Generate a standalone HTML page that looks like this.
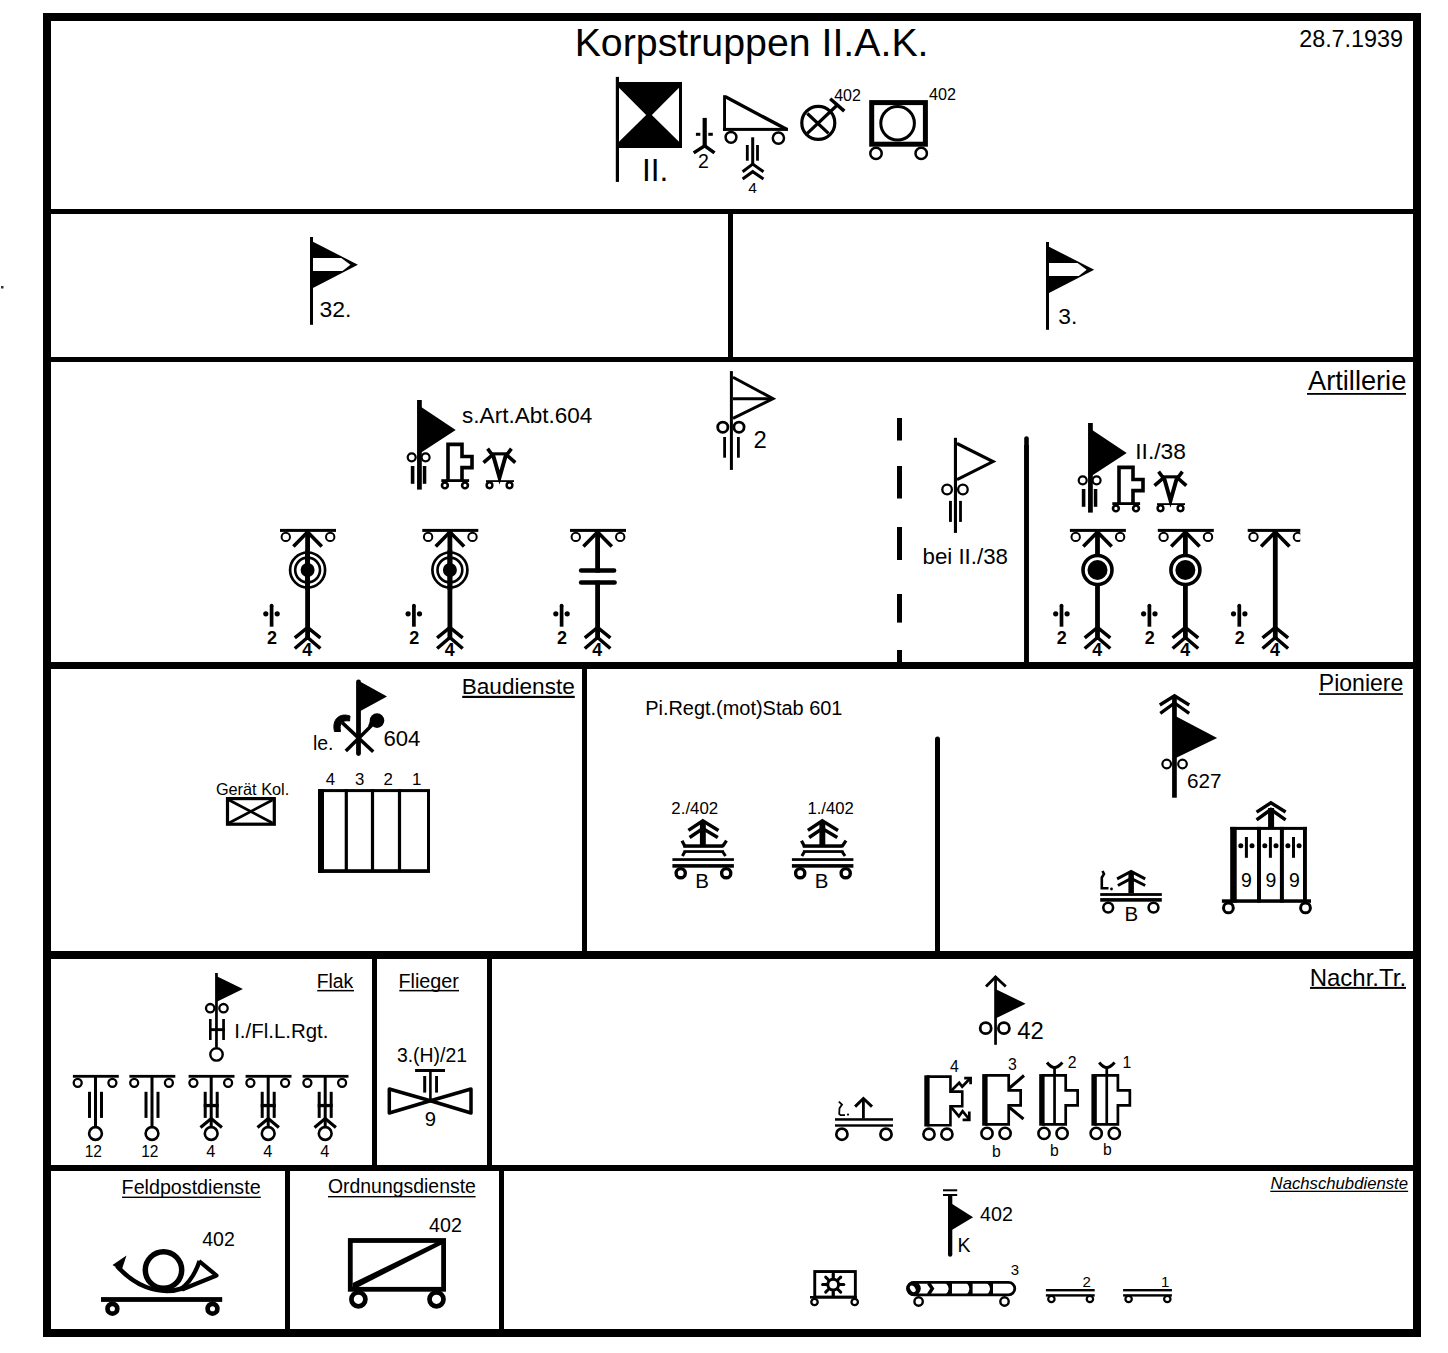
<!DOCTYPE html>
<html><head><meta charset="utf-8"><title>Korpstruppen II.A.K.</title>
<style>html,body{margin:0;padding:0;background:#fff;}svg{display:block;}
text{font-family:"Liberation Sans",sans-serif;fill:#000;stroke:none;}</style></head><body>
<svg width="1448" height="1353" viewBox="0 0 1448 1353">
<rect x="0" y="0" width="1448" height="1353" fill="#fff"/>
<g stroke="#000" fill="none">
<rect x="1" y="286" width="2.5" height="2.5" fill="#333" stroke="none"/>
<rect x="43" y="13" width="1378" height="8" fill="#000" stroke="none"/>
<rect x="43" y="1329" width="1378" height="8" fill="#000" stroke="none"/>
<rect x="43" y="13" width="8" height="1324" fill="#000" stroke="none"/>
<rect x="1413" y="13" width="8" height="1324" fill="#000" stroke="none"/>
<rect x="51" y="209" width="1362" height="5" fill="#000" stroke="none"/>
<rect x="51" y="357" width="1362" height="5" fill="#000" stroke="none"/>
<rect x="51" y="662" width="1362" height="7" fill="#000" stroke="none"/>
<rect x="51" y="951" width="1362" height="8" fill="#000" stroke="none"/>
<rect x="51" y="1165" width="1362" height="6" fill="#000" stroke="none"/>
<rect x="728" y="214" width="5" height="143" fill="#000" stroke="none"/>
<rect x="582" y="669" width="5" height="282" fill="#000" stroke="none"/>
<path d="M937.5,739 L937.5,951" fill="none" stroke-width="5" stroke-linecap="round" stroke-linejoin="miter"/>
<rect x="935" y="745" width="5" height="206" fill="#000" stroke="none"/>
<path d="M1026.5,438.5 L1026.5,662" fill="none" stroke-width="4.6" stroke-linecap="round" stroke-linejoin="miter"/>
<rect x="1024.2" y="445" width="4.6" height="217" fill="#000" stroke="none"/>
<rect x="897" y="418" width="5" height="22.5" fill="#000" stroke="none"/>
<rect x="897" y="466" width="5" height="32.5" fill="#000" stroke="none"/>
<rect x="897" y="527" width="5" height="33" fill="#000" stroke="none"/>
<rect x="897" y="594" width="5" height="28.6" fill="#000" stroke="none"/>
<rect x="897" y="650" width="5" height="12" fill="#000" stroke="none"/>
<rect x="372" y="959" width="5" height="206" fill="#000" stroke="none"/>
<rect x="487" y="959" width="5" height="206" fill="#000" stroke="none"/>
<rect x="285" y="1171" width="5" height="158" fill="#000" stroke="none"/>
<rect x="499" y="1171" width="5" height="158" fill="#000" stroke="none"/>
<rect x="615.8" y="76.9" width="3.2" height="105" fill="#000" stroke="none"/>
<rect x="619" y="82" width="63" height="66" fill="#000" stroke="none"/>
<polygon points="619,87.7 619,141.8 646.2,115" fill="#fff" stroke="none"/>
<polygon points="679,87.7 679,141.8 651.8,115" fill="#fff" stroke="none"/>
<rect x="702.6" y="117.9" width="4.2" height="28.4" fill="#000" stroke="none"/>
<line x1="695.9" y1="134.3" x2="700.3" y2="134.3" stroke-width="3" stroke-linecap="butt"/>
<line x1="708.3" y1="134.3" x2="712.8" y2="134.3" stroke-width="3" stroke-linecap="butt"/>
<polyline points="693.7,152.9 704.7,145.8 714.5,152.9" fill="none" stroke-width="3.5" stroke-linecap="butt" stroke-linejoin="miter"/>
<rect x="723.1" y="95.2" width="2.9" height="35.7" fill="#000" stroke="none"/>
<line x1="725.5" y1="96.8" x2="787" y2="129.6" stroke-width="3.4" stroke-linecap="butt"/>
<rect x="723" y="127.9" width="65" height="3" fill="#000" stroke="none"/>
<circle cx="731" cy="137.3" r="5.4" fill="none" stroke-width="2.5"/>
<circle cx="778.4" cy="138.1" r="5.6" fill="none" stroke-width="2.5"/>
<rect x="751.2" y="137.3" width="3" height="27.7" fill="#000" stroke="none"/>
<rect x="745.9" y="145" width="2.8" height="15.7" fill="#000" stroke="none"/>
<rect x="756.1" y="145" width="2.8" height="15.7" fill="#000" stroke="none"/>
<polyline points="742.6,171.7 752.7,164.1 763.5,171.7" fill="none" stroke-width="3" stroke-linecap="butt" stroke-linejoin="miter"/>
<polyline points="742.6,179 752.7,171.7 763.5,179" fill="none" stroke-width="3" stroke-linecap="butt" stroke-linejoin="miter"/>
<circle cx="818.3" cy="122.9" r="16.5" fill="none" stroke-width="3.2"/>
<line x1="807.3" y1="113.5" x2="828.5" y2="133.4" stroke-width="3.2" stroke-linecap="butt"/>
<line x1="807.3" y1="133.4" x2="838.4" y2="104" stroke-width="3.2" stroke-linecap="butt"/>
<line x1="830.2" y1="98.8" x2="844.3" y2="111.1" stroke-width="3.5" stroke-linecap="butt"/>
<rect x="871.7" y="102.6" width="53.7" height="41.6" fill="none" stroke-width="5"/>
<circle cx="897.6" cy="123.3" r="16.8" fill="none" stroke-width="3"/>
<circle cx="876" cy="153.4" r="5.7" fill="none" stroke-width="2.5"/>
<circle cx="921.2" cy="153.4" r="5.7" fill="none" stroke-width="2.5"/>
<rect x="310" y="237" width="3" height="87.8" fill="#000" stroke="none"/>
<polygon points="312,241.2 357.9,264.8 312,288.5" fill="#000" stroke="none"/>
<polygon points="313,258 341.28,258 350.42,264.8 342.5,271 313,271" fill="#fff" stroke="none"/>
<rect x="1046" y="242" width="3" height="87.8" fill="#000" stroke="none"/>
<polygon points="1048,246.2 1094.2,269.8 1048,293.5" fill="#000" stroke="none"/>
<polygon points="1049,263 1077.49,263 1086.72,269.8 1078.72,276 1049,276" fill="#fff" stroke="none"/>
<rect x="417.05" y="400" width="4.75" height="89.6" fill="#000" stroke="none"/>
<polygon points="420.8,406.8 455.7,430 420.8,452.7" fill="#000" stroke="none"/>
<circle cx="411.7" cy="457.3" r="4" fill="none" stroke-width="2.2"/>
<circle cx="425.6" cy="457.3" r="4" fill="none" stroke-width="2.2"/>
<rect x="410.8" y="466" width="3.6" height="17.8" fill="#000" stroke="none"/>
<rect x="422.8" y="466" width="3.5" height="17.8" fill="#000" stroke="none"/>
<path d="M448,481 V444.4 H462 V456.5 H472 V467.6 H462 V481" fill="none" stroke-width="3.6" stroke-linecap="butt" stroke-linejoin="miter"/>
<rect x="441.3" y="479.2" width="27.8" height="2.8" fill="#000" stroke="none"/>
<circle cx="444.9" cy="485.4" r="2.9" fill="none" stroke-width="2.6"/>
<circle cx="465" cy="485.4" r="2.9" fill="none" stroke-width="2.6"/>
<rect x="492" y="452.3" width="15" height="3.1" fill="#000" stroke="none"/>
<polyline points="492.8,454 499.5,477.5 506.2,454" fill="none" stroke-width="4" stroke-linecap="butt" stroke-linejoin="miter"/>
<polyline points="487.6,448.7 492.3,455 483.5,462.7" fill="none" stroke-width="3.6" stroke-linecap="butt" stroke-linejoin="miter"/>
<polyline points="511.4,448.7 506.7,455 515.3,462.7" fill="none" stroke-width="3.6" stroke-linecap="butt" stroke-linejoin="miter"/>
<rect x="498.5" y="476" width="2" height="5" fill="#000" stroke="none"/>
<rect x="486" y="480.2" width="28" height="1.8" fill="#000" stroke="none"/>
<circle cx="489.5" cy="485.3" r="2.9" fill="none" stroke-width="2.4"/>
<circle cx="509.5" cy="485.3" r="2.9" fill="none" stroke-width="2.4"/>
<rect x="1088.05" y="423" width="4.75" height="89.6" fill="#000" stroke="none"/>
<polygon points="1091.8,429.8 1126.7,453 1091.8,475.7" fill="#000" stroke="none"/>
<circle cx="1082.7" cy="480.3" r="4" fill="none" stroke-width="2.2"/>
<circle cx="1096.6" cy="480.3" r="4" fill="none" stroke-width="2.2"/>
<rect x="1081.8" y="489" width="3.6" height="17.8" fill="#000" stroke="none"/>
<rect x="1093.8" y="489" width="3.5" height="17.8" fill="#000" stroke="none"/>
<path d="M1119,504 V467.4 H1133 V479.5 H1143 V490.6 H1133 V504" fill="none" stroke-width="3.6" stroke-linecap="butt" stroke-linejoin="miter"/>
<rect x="1112.3" y="502.2" width="27.8" height="2.8" fill="#000" stroke="none"/>
<circle cx="1115.9" cy="508.4" r="2.9" fill="none" stroke-width="2.6"/>
<circle cx="1136" cy="508.4" r="2.9" fill="none" stroke-width="2.6"/>
<rect x="1163" y="475.3" width="15" height="3.1" fill="#000" stroke="none"/>
<polyline points="1163.8,477 1170.5,500.5 1177.2,477" fill="none" stroke-width="4" stroke-linecap="butt" stroke-linejoin="miter"/>
<polyline points="1158.6,471.7 1163.3,478 1154.5,485.7" fill="none" stroke-width="3.6" stroke-linecap="butt" stroke-linejoin="miter"/>
<polyline points="1182.4,471.7 1177.7,478 1186.3,485.7" fill="none" stroke-width="3.6" stroke-linecap="butt" stroke-linejoin="miter"/>
<rect x="1169.5" y="499" width="2" height="5" fill="#000" stroke="none"/>
<rect x="1157" y="503.2" width="28" height="1.8" fill="#000" stroke="none"/>
<circle cx="1160.5" cy="508.3" r="2.9" fill="none" stroke-width="2.4"/>
<circle cx="1180.5" cy="508.3" r="2.9" fill="none" stroke-width="2.4"/>
<rect x="729.9" y="371.1" width="3" height="98.8" fill="#000" stroke="none"/>
<polyline points="733,377.2 773,398.7 733,418.3" fill="none" stroke-width="3" stroke-linecap="butt" stroke-linejoin="miter"/>
<line x1="733" y1="398.7" x2="771" y2="398.7" stroke-width="3" stroke-linecap="butt"/>
<circle cx="722.8" cy="427.2" r="5.1" fill="none" stroke-width="2.8"/>
<circle cx="739" cy="427.2" r="5.1" fill="none" stroke-width="2.8"/>
<rect x="723.2" y="437" width="2.8" height="20.7" fill="#000" stroke="none"/>
<rect x="737" y="437" width="2.8" height="20.7" fill="#000" stroke="none"/>
<rect x="953.9" y="437.8" width="3.1" height="95.1" fill="#000" stroke="none"/>
<polyline points="957,443.5 993,461.6 957,479.6" fill="none" stroke-width="3.1" stroke-linecap="butt" stroke-linejoin="miter"/>
<circle cx="947.1" cy="489.5" r="4.8" fill="none" stroke-width="2.3"/>
<circle cx="962.9" cy="489.5" r="4.8" fill="none" stroke-width="2.3"/>
<rect x="949" y="500.9" width="2.9" height="21" fill="#000" stroke="none"/>
<rect x="959.1" y="500.9" width="2.8" height="21" fill="#000" stroke="none"/>
<rect x="280" y="528.9" width="56" height="3" fill="#000" stroke="none"/>
<circle cx="285.8" cy="536.9" r="4.2" fill="none" stroke-width="2"/>
<circle cx="330.2" cy="536.9" r="4.2" fill="none" stroke-width="2"/>
<polyline points="293.4,546.5 307.6,532 321.8,546.5" fill="none" stroke-width="3.6" stroke-linecap="butt" stroke-linejoin="miter"/>
<rect x="305.2" y="530" width="4.8" height="110" fill="#000" stroke="none"/>
<circle cx="307.6" cy="570" r="17.5" fill="none" stroke-width="2.7"/>
<circle cx="307.6" cy="570" r="12.4" fill="none" stroke-width="2.6"/>
<circle cx="307.6" cy="570" r="7" fill="#000" stroke="none"/>
<rect x="305.2" y="550" width="4.8" height="40" fill="#000" stroke="none"/>
<polyline points="294.8,637.8 307.6,627.5 320.4,637.8" fill="none" stroke-width="3.5" stroke-linecap="butt" stroke-linejoin="miter"/>
<polyline points="294.8,648.5 307.6,637.5 320.4,648.5" fill="none" stroke-width="3.5" stroke-linecap="butt" stroke-linejoin="miter"/>
<path d="M271.6,605.5 V626.7" fill="none" stroke-width="3.7" stroke-linecap="butt" stroke-linejoin="miter"/>
<line x1="271.6" y1="605.6" x2="271.6" y2="606" stroke-width="3.7" stroke-linecap="round"/>
<circle cx="265.8" cy="613.8" r="2.6" fill="#000" stroke="none"/>
<circle cx="277.2" cy="613.8" r="2.6" fill="#000" stroke="none"/>
<rect x="422.3" y="528.9" width="56" height="3" fill="#000" stroke="none"/>
<circle cx="428.1" cy="536.9" r="4.2" fill="none" stroke-width="2"/>
<circle cx="472.5" cy="536.9" r="4.2" fill="none" stroke-width="2"/>
<polyline points="435.7,546.5 449.9,532 464.1,546.5" fill="none" stroke-width="3.6" stroke-linecap="butt" stroke-linejoin="miter"/>
<rect x="447.5" y="530" width="4.8" height="110" fill="#000" stroke="none"/>
<circle cx="449.9" cy="570" r="17.5" fill="none" stroke-width="2.7"/>
<circle cx="449.9" cy="570" r="12.4" fill="none" stroke-width="2.6"/>
<circle cx="449.9" cy="570" r="7" fill="#000" stroke="none"/>
<rect x="447.5" y="550" width="4.8" height="40" fill="#000" stroke="none"/>
<polyline points="437.1,637.8 449.9,627.5 462.7,637.8" fill="none" stroke-width="3.5" stroke-linecap="butt" stroke-linejoin="miter"/>
<polyline points="437.1,648.5 449.9,637.5 462.7,648.5" fill="none" stroke-width="3.5" stroke-linecap="butt" stroke-linejoin="miter"/>
<path d="M413.9,605.5 V626.7" fill="none" stroke-width="3.7" stroke-linecap="butt" stroke-linejoin="miter"/>
<line x1="413.9" y1="605.6" x2="413.9" y2="606" stroke-width="3.7" stroke-linecap="round"/>
<circle cx="408.1" cy="613.8" r="2.6" fill="#000" stroke="none"/>
<circle cx="419.5" cy="613.8" r="2.6" fill="#000" stroke="none"/>
<rect x="570" y="528.9" width="56" height="3" fill="#000" stroke="none"/>
<circle cx="575.8" cy="536.9" r="4.2" fill="none" stroke-width="2"/>
<circle cx="620.2" cy="536.9" r="4.2" fill="none" stroke-width="2"/>
<polyline points="583.4,546.5 597.6,532 611.8,546.5" fill="none" stroke-width="3.6" stroke-linecap="butt" stroke-linejoin="miter"/>
<rect x="595.2" y="530" width="4.8" height="110" fill="#000" stroke="none"/>
<rect x="577.6" y="572.6" width="40" height="8" fill="#fff" stroke="none"/>
<line x1="581.1" y1="570.4" x2="614.1" y2="570.4" stroke-width="4.5" stroke-linecap="round"/>
<line x1="581.1" y1="582.6" x2="614.6" y2="582.6" stroke-width="4.5" stroke-linecap="round"/>
<polyline points="584.8,637.8 597.6,627.5 610.4,637.8" fill="none" stroke-width="3.5" stroke-linecap="butt" stroke-linejoin="miter"/>
<polyline points="584.8,648.5 597.6,637.5 610.4,648.5" fill="none" stroke-width="3.5" stroke-linecap="butt" stroke-linejoin="miter"/>
<path d="M561.6,605.5 V626.7" fill="none" stroke-width="3.7" stroke-linecap="butt" stroke-linejoin="miter"/>
<line x1="561.6" y1="605.6" x2="561.6" y2="606" stroke-width="3.7" stroke-linecap="round"/>
<circle cx="555.8" cy="613.8" r="2.6" fill="#000" stroke="none"/>
<circle cx="567.2" cy="613.8" r="2.6" fill="#000" stroke="none"/>
<rect x="1069.9" y="528.9" width="56" height="3" fill="#000" stroke="none"/>
<circle cx="1075.7" cy="536.9" r="4.2" fill="none" stroke-width="2"/>
<circle cx="1120.1" cy="536.9" r="4.2" fill="none" stroke-width="2"/>
<polyline points="1083.3,546.5 1097.5,532 1111.7,546.5" fill="none" stroke-width="3.6" stroke-linecap="butt" stroke-linejoin="miter"/>
<rect x="1095.1" y="530" width="4.8" height="110" fill="#000" stroke="none"/>
<circle cx="1097.5" cy="570" r="14.5" fill="#fff" stroke-width="3.6"/>
<circle cx="1097.5" cy="570" r="10" fill="#000" stroke="none"/>
<polyline points="1084.7,637.8 1097.5,627.5 1110.3,637.8" fill="none" stroke-width="3.5" stroke-linecap="butt" stroke-linejoin="miter"/>
<polyline points="1084.7,648.5 1097.5,637.5 1110.3,648.5" fill="none" stroke-width="3.5" stroke-linecap="butt" stroke-linejoin="miter"/>
<path d="M1061.5,605.5 V626.7" fill="none" stroke-width="3.7" stroke-linecap="butt" stroke-linejoin="miter"/>
<line x1="1061.5" y1="605.6" x2="1061.5" y2="606" stroke-width="3.7" stroke-linecap="round"/>
<circle cx="1055.7" cy="613.8" r="2.6" fill="#000" stroke="none"/>
<circle cx="1067.1" cy="613.8" r="2.6" fill="#000" stroke="none"/>
<rect x="1157.8" y="528.9" width="56" height="3" fill="#000" stroke="none"/>
<circle cx="1163.6" cy="536.9" r="4.2" fill="none" stroke-width="2"/>
<circle cx="1208" cy="536.9" r="4.2" fill="none" stroke-width="2"/>
<polyline points="1171.2,546.5 1185.4,532 1199.6,546.5" fill="none" stroke-width="3.6" stroke-linecap="butt" stroke-linejoin="miter"/>
<rect x="1183" y="530" width="4.8" height="110" fill="#000" stroke="none"/>
<circle cx="1185.4" cy="570" r="14.5" fill="#fff" stroke-width="3.6"/>
<circle cx="1185.4" cy="570" r="10" fill="#000" stroke="none"/>
<polyline points="1172.6,637.8 1185.4,627.5 1198.2,637.8" fill="none" stroke-width="3.5" stroke-linecap="butt" stroke-linejoin="miter"/>
<polyline points="1172.6,648.5 1185.4,637.5 1198.2,648.5" fill="none" stroke-width="3.5" stroke-linecap="butt" stroke-linejoin="miter"/>
<path d="M1149.4,605.5 V626.7" fill="none" stroke-width="3.7" stroke-linecap="butt" stroke-linejoin="miter"/>
<line x1="1149.4" y1="605.6" x2="1149.4" y2="606" stroke-width="3.7" stroke-linecap="round"/>
<circle cx="1143.6" cy="613.8" r="2.6" fill="#000" stroke="none"/>
<circle cx="1155" cy="613.8" r="2.6" fill="#000" stroke="none"/>
<rect x="1247.7" y="528.9" width="56" height="3" fill="#000" stroke="none"/>
<circle cx="1253.5" cy="536.9" r="4.2" fill="none" stroke-width="2"/>
<circle cx="1297.9" cy="536.9" r="4.2" fill="none" stroke-width="2"/>
<polyline points="1261.1,546.5 1275.3,532 1289.5,546.5" fill="none" stroke-width="3.6" stroke-linecap="butt" stroke-linejoin="miter"/>
<rect x="1272.9" y="530" width="4.8" height="110" fill="#000" stroke="none"/>
<polyline points="1262.5,637.8 1275.3,627.5 1288.1,637.8" fill="none" stroke-width="3.5" stroke-linecap="butt" stroke-linejoin="miter"/>
<polyline points="1262.5,648.5 1275.3,637.5 1288.1,648.5" fill="none" stroke-width="3.5" stroke-linecap="butt" stroke-linejoin="miter"/>
<path d="M1239.3,605.5 V626.7" fill="none" stroke-width="3.7" stroke-linecap="butt" stroke-linejoin="miter"/>
<line x1="1239.3" y1="605.6" x2="1239.3" y2="606" stroke-width="3.7" stroke-linecap="round"/>
<circle cx="1233.5" cy="613.8" r="2.6" fill="#000" stroke="none"/>
<circle cx="1244.9" cy="613.8" r="2.6" fill="#000" stroke="none"/>
<rect x="1300.3" y="528" width="8" height="16" fill="#fff" stroke="none"/>
<line x1="358.5" y1="682" x2="358.5" y2="753.5" stroke-width="4.8" stroke-linecap="round"/>
<polygon points="359.5,681.2 387,696.5 359.5,711.4" fill="#000" stroke="none"/>
<line x1="345.8" y1="750.9" x2="371.8" y2="725.3" stroke-width="3.5" stroke-linecap="butt"/>
<circle cx="377" cy="720.6" r="7.3" fill="#000" stroke="none"/>
<polygon points="368,726.5 371.5,716.5 381,725.5" fill="#000" stroke="none"/>
<line x1="373.2" y1="751.7" x2="342.2" y2="722.6" stroke-width="3.5" stroke-linecap="butt"/>
<path d="M334.5,731.5 C331.5,719 340,712.5 350,716 L349.5,721 C342,719.5 339,724 340.5,731.5 Z" fill="#000" stroke="#000" stroke-width="1" stroke-linejoin="round"/>
<rect x="227.5" y="798.6" width="46.8" height="25.6" fill="none" stroke-width="3.2"/>
<line x1="229" y1="800" x2="272.5" y2="823" stroke-width="2.8" stroke-linecap="butt"/>
<line x1="229" y1="823" x2="272.5" y2="800" stroke-width="2.8" stroke-linecap="butt"/>
<rect x="319.5" y="790.6" width="109" height="80.6" fill="none" stroke-width="3"/>
<rect x="318" y="789.1" width="6" height="83.7" fill="#000" stroke="none"/>
<rect x="318" y="869.3" width="112" height="3.5" fill="#000" stroke="none"/>
<rect x="344.7" y="789.1" width="3.2" height="82.9" fill="#000" stroke="none"/>
<rect x="370.9" y="789.1" width="3.2" height="82.9" fill="#000" stroke="none"/>
<rect x="397.9" y="789.1" width="3.2" height="82.9" fill="#000" stroke="none"/>
<rect x="699.9" y="822" width="5.9" height="24" fill="#000" stroke="none"/>
<polyline points="688.4,830.4 702.8,820.8 718.5,830.4" fill="none" stroke-width="3.5" stroke-linecap="butt" stroke-linejoin="miter"/>
<polyline points="689.6,837.5 702.8,828.5 717.8,837.5" fill="none" stroke-width="3.5" stroke-linecap="butt" stroke-linejoin="miter"/>
<rect x="683.3" y="844.3" width="39.9" height="3.5" fill="#000" stroke="none"/>
<line x1="682" y1="840.8" x2="685" y2="846.5" stroke-width="3.2" stroke-linecap="butt"/>
<line x1="726.5" y1="840.6" x2="722.5" y2="846.5" stroke-width="3.2" stroke-linecap="butt"/>
<rect x="683.5" y="850.2" width="40.5" height="2.7" fill="#000" stroke="none"/>
<line x1="685" y1="851.5" x2="682.4" y2="856" stroke-width="3" stroke-linecap="butt"/>
<line x1="722.5" y1="851.5" x2="725.5" y2="856" stroke-width="3" stroke-linecap="butt"/>
<rect x="672.4" y="858.2" width="61.5" height="2.7" fill="#000" stroke="none"/>
<rect x="672.4" y="864.1" width="61.5" height="3.6" fill="#000" stroke="none"/>
<circle cx="680.7" cy="873.2" r="4.6" fill="none" stroke-width="3.4"/>
<circle cx="726.2" cy="873.2" r="4.6" fill="none" stroke-width="3.4"/>
<rect x="819.4" y="822" width="5.9" height="24" fill="#000" stroke="none"/>
<polyline points="807.9,830.4 822.3,820.8 838,830.4" fill="none" stroke-width="3.5" stroke-linecap="butt" stroke-linejoin="miter"/>
<polyline points="809.1,837.5 822.3,828.5 837.3,837.5" fill="none" stroke-width="3.5" stroke-linecap="butt" stroke-linejoin="miter"/>
<rect x="802.8" y="844.3" width="39.9" height="3.5" fill="#000" stroke="none"/>
<line x1="801.5" y1="840.8" x2="804.5" y2="846.5" stroke-width="3.2" stroke-linecap="butt"/>
<line x1="846" y1="840.6" x2="842" y2="846.5" stroke-width="3.2" stroke-linecap="butt"/>
<rect x="803" y="850.2" width="40.5" height="2.7" fill="#000" stroke="none"/>
<line x1="804.5" y1="851.5" x2="801.9" y2="856" stroke-width="3" stroke-linecap="butt"/>
<line x1="842" y1="851.5" x2="845" y2="856" stroke-width="3" stroke-linecap="butt"/>
<rect x="791.9" y="858.2" width="61.5" height="2.7" fill="#000" stroke="none"/>
<rect x="791.9" y="864.1" width="61.5" height="3.6" fill="#000" stroke="none"/>
<circle cx="800.2" cy="873.2" r="4.6" fill="none" stroke-width="3.4"/>
<circle cx="845.7" cy="873.2" r="4.6" fill="none" stroke-width="3.4"/>
<rect x="1172.1" y="697" width="4.7" height="100.7" fill="#000" stroke="none"/>
<polyline points="1159.8,705 1174.5,695.8 1189.2,705" fill="none" stroke-width="3.3" stroke-linecap="butt" stroke-linejoin="miter"/>
<polyline points="1160.3,713.3 1174.5,703 1189.2,713.3" fill="none" stroke-width="3.3" stroke-linecap="butt" stroke-linejoin="miter"/>
<polygon points="1175.8,716.3 1217.1,738 1175.8,758" fill="#000" stroke="none"/>
<circle cx="1166.7" cy="764" r="4.3" fill="none" stroke-width="2.2"/>
<circle cx="1182.5" cy="764" r="4.3" fill="none" stroke-width="2.2"/>
<path d="M1102.5,871 L1104,874 L1101.8,877.7 V888.2 H1108.5" fill="none" stroke-width="2.6" stroke-linecap="butt" stroke-linejoin="miter"/>
<circle cx="1111.5" cy="889" r="1.4" fill="#000" stroke="none"/>
<rect x="1128.4" y="872" width="5.5" height="21.1" fill="#000" stroke="none"/>
<polyline points="1117.1,878.8 1131.1,871.5 1145.2,878.8" fill="none" stroke-width="3" stroke-linecap="butt" stroke-linejoin="miter"/>
<polyline points="1117.9,885.5 1131.1,878.5 1145.2,885.5" fill="none" stroke-width="3" stroke-linecap="butt" stroke-linejoin="miter"/>
<rect x="1100.2" y="893.1" width="61.6" height="2.8" fill="#000" stroke="none"/>
<rect x="1100.2" y="898.1" width="61.6" height="3.6" fill="#000" stroke="none"/>
<circle cx="1108.2" cy="907.6" r="4.9" fill="none" stroke-width="2.6"/>
<circle cx="1153.5" cy="907.6" r="4.9" fill="none" stroke-width="2.6"/>
<rect x="1268.1" y="808" width="6" height="19" fill="#000" stroke="none"/>
<polyline points="1256.6,812.1 1270.9,802.8 1285.6,812.1" fill="none" stroke-width="3.5" stroke-linecap="butt" stroke-linejoin="miter"/>
<polyline points="1256.6,819.9 1270.9,809.5 1285.6,819.9" fill="none" stroke-width="3.5" stroke-linecap="butt" stroke-linejoin="miter"/>
<rect x="1230.2" y="826.9" width="76.7" height="3" fill="#000" stroke="none"/>
<rect x="1230.2" y="826.9" width="6.5" height="75.7" fill="#000" stroke="none"/>
<rect x="1257" y="826.9" width="4" height="75.7" fill="#000" stroke="none"/>
<rect x="1279.9" y="826.9" width="4" height="75.7" fill="#000" stroke="none"/>
<rect x="1303" y="826.9" width="3.9" height="75.7" fill="#000" stroke="none"/>
<rect x="1221.9" y="899.3" width="89.1" height="3.5" fill="#000" stroke="none"/>
<circle cx="1228.4" cy="907.9" r="4.9" fill="none" stroke-width="3"/>
<circle cx="1305.5" cy="907.9" r="4.9" fill="none" stroke-width="3"/>
<rect x="1244.9" y="837" width="3" height="20.8" fill="#000" stroke="none"/>
<circle cx="1240.8" cy="845.8" r="2.5" fill="#000" stroke="none"/>
<circle cx="1252" cy="845.8" r="2.5" fill="#000" stroke="none"/>
<rect x="1268.9" y="837" width="3" height="20.8" fill="#000" stroke="none"/>
<circle cx="1264.8" cy="845.8" r="2.5" fill="#000" stroke="none"/>
<circle cx="1276" cy="845.8" r="2.5" fill="#000" stroke="none"/>
<rect x="1292" y="837" width="3" height="20.8" fill="#000" stroke="none"/>
<circle cx="1287.9" cy="845.8" r="2.5" fill="#000" stroke="none"/>
<circle cx="1299.1" cy="845.8" r="2.5" fill="#000" stroke="none"/>
<rect x="215.1" y="973" width="2.7" height="74.5" fill="#000" stroke="none"/>
<polygon points="216.8,976.3 242.9,989 216.8,1001.7" fill="#000" stroke="none"/>
<circle cx="210.2" cy="1008.2" r="4.2" fill="none" stroke-width="2.3"/>
<circle cx="223.5" cy="1008.2" r="4.2" fill="none" stroke-width="2.3"/>
<rect x="209" y="1019" width="2.6" height="21" fill="#000" stroke="none"/>
<rect x="222.2" y="1019" width="2.7" height="21" fill="#000" stroke="none"/>
<rect x="209" y="1028.2" width="15.9" height="2.9" fill="#000" stroke="none"/>
<circle cx="216.5" cy="1054.4" r="6.2" fill="none" stroke-width="2.4"/>
<rect x="72.9" y="1074.9" width="45.9" height="2.8" fill="#000" stroke="none"/>
<circle cx="77.7" cy="1082.8" r="4" fill="none" stroke-width="2.3"/>
<circle cx="112.4" cy="1082.8" r="4" fill="none" stroke-width="2.3"/>
<rect x="94" y="1077" width="3" height="49" fill="#000" stroke="none"/>
<rect x="88" y="1091.8" width="3" height="26.1" fill="#000" stroke="none"/>
<rect x="100" y="1091.8" width="3" height="26.1" fill="#000" stroke="none"/>
<circle cx="95.5" cy="1133.5" r="6.4" fill="none" stroke-width="2.6"/>
<rect x="129.4" y="1074.9" width="45.9" height="2.8" fill="#000" stroke="none"/>
<circle cx="134.2" cy="1082.8" r="4" fill="none" stroke-width="2.3"/>
<circle cx="168.9" cy="1082.8" r="4" fill="none" stroke-width="2.3"/>
<rect x="150.5" y="1077" width="3" height="49" fill="#000" stroke="none"/>
<rect x="144.5" y="1091.8" width="3" height="26.1" fill="#000" stroke="none"/>
<rect x="156.5" y="1091.8" width="3" height="26.1" fill="#000" stroke="none"/>
<circle cx="152" cy="1133.5" r="6.4" fill="none" stroke-width="2.6"/>
<rect x="188.6" y="1074.9" width="45.9" height="2.8" fill="#000" stroke="none"/>
<circle cx="193.4" cy="1082.8" r="4" fill="none" stroke-width="2.3"/>
<circle cx="228.1" cy="1082.8" r="4" fill="none" stroke-width="2.3"/>
<rect x="209.7" y="1077" width="3" height="49" fill="#000" stroke="none"/>
<rect x="203.7" y="1091.8" width="3" height="26.1" fill="#000" stroke="none"/>
<rect x="215.7" y="1091.8" width="3" height="26.1" fill="#000" stroke="none"/>
<rect x="203.7" y="1103.9" width="15" height="3.3" fill="#000" stroke="none"/>
<polyline points="200.5,1127.5 211.2,1118.6 221.9,1127.5" fill="none" stroke-width="3.2" stroke-linecap="butt" stroke-linejoin="miter"/>
<circle cx="211.2" cy="1133.5" r="6.4" fill="none" stroke-width="2.6"/>
<rect x="245.6" y="1074.9" width="45.9" height="2.8" fill="#000" stroke="none"/>
<circle cx="250.4" cy="1082.8" r="4" fill="none" stroke-width="2.3"/>
<circle cx="285.1" cy="1082.8" r="4" fill="none" stroke-width="2.3"/>
<rect x="266.7" y="1077" width="3" height="49" fill="#000" stroke="none"/>
<rect x="260.7" y="1091.8" width="3" height="26.1" fill="#000" stroke="none"/>
<rect x="272.7" y="1091.8" width="3" height="26.1" fill="#000" stroke="none"/>
<rect x="260.7" y="1103.9" width="15" height="3.3" fill="#000" stroke="none"/>
<polyline points="257.5,1127.5 268.2,1118.6 278.9,1127.5" fill="none" stroke-width="3.2" stroke-linecap="butt" stroke-linejoin="miter"/>
<circle cx="268.2" cy="1133.5" r="6.4" fill="none" stroke-width="2.6"/>
<rect x="302.6" y="1074.9" width="45.9" height="2.8" fill="#000" stroke="none"/>
<circle cx="307.4" cy="1082.8" r="4" fill="none" stroke-width="2.3"/>
<circle cx="342.1" cy="1082.8" r="4" fill="none" stroke-width="2.3"/>
<rect x="323.7" y="1077" width="3" height="49" fill="#000" stroke="none"/>
<rect x="317.7" y="1091.8" width="3" height="26.1" fill="#000" stroke="none"/>
<rect x="329.7" y="1091.8" width="3" height="26.1" fill="#000" stroke="none"/>
<rect x="317.7" y="1103.9" width="15" height="3.3" fill="#000" stroke="none"/>
<polyline points="314.5,1127.5 325.2,1118.6 335.9,1127.5" fill="none" stroke-width="3.2" stroke-linecap="butt" stroke-linejoin="miter"/>
<circle cx="325.2" cy="1133.5" r="6.4" fill="none" stroke-width="2.6"/>
<rect x="415.1" y="1069" width="29.9" height="3" fill="#000" stroke="none"/>
<rect x="429.1" y="1070" width="2.6" height="30" fill="#000" stroke="none"/>
<rect x="423.2" y="1076" width="3" height="16.6" fill="#000" stroke="none"/>
<rect x="435.1" y="1076" width="2.9" height="16.6" fill="#000" stroke="none"/>
<polygon points="389.3,1089 430.4,1100.8 389.3,1113" fill="none" stroke="#000" stroke-width="3.5" stroke-linejoin="round"/>
<polygon points="471,1089 430.4,1100.8 471,1113" fill="none" stroke="#000" stroke-width="3.5" stroke-linejoin="round"/>
<rect x="994.2" y="976" width="2.7" height="68.8" fill="#000" stroke="none"/>
<polyline points="986,986.5 995.5,977 1005.8,986.5" fill="none" stroke-width="2.8" stroke-linecap="butt" stroke-linejoin="miter"/>
<polygon points="995.9,989.3 1025.6,1003.7 995.9,1018.3" fill="#000" stroke="none"/>
<circle cx="985.7" cy="1028.2" r="5.5" fill="none" stroke-width="2.8"/>
<circle cx="1003.9" cy="1028.2" r="5.5" fill="none" stroke-width="2.8"/>
<path d="M838.8,1101.6 L842,1104.6 L839.5,1108.2 L839.2,1113.8 L840.5,1115.1 H845" fill="none" stroke-width="1.8" stroke-linecap="butt" stroke-linejoin="miter"/>
<circle cx="848" cy="1114.6" r="1.1" fill="#000" stroke="none"/>
<rect x="862" y="1098" width="2.8" height="20.5" fill="#000" stroke="none"/>
<polyline points="855.1,1106.6 863.4,1098.5 872,1106.6" fill="none" stroke-width="3" stroke-linecap="butt" stroke-linejoin="miter"/>
<rect x="835" y="1118.2" width="58" height="2.5" fill="#000" stroke="none"/>
<rect x="835" y="1124.3" width="58" height="2.4" fill="#000" stroke="none"/>
<circle cx="841.9" cy="1134.2" r="5.6" fill="none" stroke-width="2.7"/>
<circle cx="886" cy="1134.2" r="5.6" fill="none" stroke-width="2.7"/>
<rect x="982.2" y="1074.1" width="5.4" height="51.6" fill="#000" stroke="none"/>
<path d="M985,1075.45 H1008.7 V1090.45 H1020.65 V1105.4 H1008.7 V1124.4 H985" fill="none" stroke-width="2.7" stroke-linecap="butt" stroke-linejoin="miter"/>
<circle cx="987" cy="1133.4" r="5.6" fill="none" stroke-width="2.6"/>
<circle cx="1005.1" cy="1133.4" r="5.6" fill="none" stroke-width="2.6"/>
<line x1="1009.5" y1="1088" x2="1024" y2="1075.5" stroke-width="3" stroke-linecap="butt"/>
<line x1="1009.5" y1="1107.5" x2="1023.5" y2="1119" stroke-width="3" stroke-linecap="butt"/>
<rect x="1039.2" y="1074.1" width="5.4" height="51.6" fill="#000" stroke="none"/>
<path d="M1042,1075.45 H1065.7 V1090.45 H1077.65 V1105.4 H1065.7 V1124.4 H1042" fill="none" stroke-width="2.7" stroke-linecap="butt" stroke-linejoin="miter"/>
<circle cx="1044" cy="1133.4" r="5.6" fill="none" stroke-width="2.6"/>
<circle cx="1062.1" cy="1133.4" r="5.6" fill="none" stroke-width="2.6"/>
<rect x="1053.2" y="1068" width="2.7" height="56" fill="#000" stroke="none"/>
<path d="M1047,1062.5 Q1051,1067.5 1054.5,1067.5 Q1058,1067.5 1062.4,1062.5" fill="none" stroke-width="3" stroke-linecap="butt" stroke-linejoin="miter"/>
<rect x="1091.4" y="1074.1" width="5.4" height="51.6" fill="#000" stroke="none"/>
<path d="M1094.2,1075.45 H1117.9 V1090.45 H1129.85 V1105.4 H1117.9 V1124.4 H1094.2" fill="none" stroke-width="2.7" stroke-linecap="butt" stroke-linejoin="miter"/>
<circle cx="1096.2" cy="1133.4" r="5.6" fill="none" stroke-width="2.6"/>
<circle cx="1114.3" cy="1133.4" r="5.6" fill="none" stroke-width="2.6"/>
<rect x="1105.4" y="1068" width="2.7" height="56" fill="#000" stroke="none"/>
<path d="M1099.2,1062.5 Q1103.2,1067.5 1106.7,1067.5 Q1110.2,1067.5 1114.6,1062.5" fill="none" stroke-width="3" stroke-linecap="butt" stroke-linejoin="miter"/>
<rect x="924.3" y="1075.3" width="5.3" height="51.2" fill="#000" stroke="none"/>
<path d="M927,1076.65 H950.45 V1091.6 H962.25 V1106.25 H950.45 V1125.2 H927" fill="none" stroke-width="2.6" stroke-linecap="butt" stroke-linejoin="miter"/>
<circle cx="929" cy="1134.2" r="5.6" fill="none" stroke-width="2.6"/>
<circle cx="946.9" cy="1134.2" r="5.6" fill="none" stroke-width="2.6"/>
<polyline points="951,1091 959.2,1082.8 962.2,1086.6 970,1078.5" fill="none" stroke-width="2.7" stroke-linecap="butt" stroke-linejoin="miter"/>
<polyline points="964.2,1078.2 970.6,1078.2 970.6,1084.3" fill="none" stroke-width="2.7" stroke-linecap="butt" stroke-linejoin="miter"/>
<polyline points="951,1106.8 958.9,1116.4 962.6,1111.2 969,1119" fill="none" stroke-width="2.7" stroke-linecap="butt" stroke-linejoin="miter"/>
<polyline points="969.3,1111.6 969.3,1119.8 962.6,1119.8" fill="none" stroke-width="2.7" stroke-linecap="butt" stroke-linejoin="miter"/>
<circle cx="163.5" cy="1270" r="18.2" fill="none" stroke-width="5.5"/>
<path d="M117,1266 C125,1275 133,1282 146,1287 C158,1291.5 172,1292 184,1288" fill="none" stroke-width="4.5" stroke-linecap="butt" stroke-linejoin="miter"/>
<polygon points="112.5,1265 126.5,1255.5 121.5,1270.5" fill="#000" stroke="none"/>
<path d="M181,1289 C190,1282 196,1272 199.5,1261" fill="none" stroke-width="4.2" stroke-linecap="butt" stroke-linejoin="miter"/>
<polyline points="199,1261 216.5,1275.5 182,1289.5" fill="none" stroke-width="4.2" stroke-linecap="butt" stroke-linejoin="round"/>
<rect x="101" y="1297.1" width="121.2" height="4.8" fill="#000" stroke="none"/>
<circle cx="112.4" cy="1308.7" r="4.9" fill="none" stroke-width="4.7"/>
<circle cx="212.5" cy="1308.7" r="4.9" fill="none" stroke-width="4.7"/>
<rect x="350.3" y="1240.5" width="93.3" height="48.8" fill="none" stroke-width="4.8"/>
<polygon points="352.7,1283 438,1241.5 443.6,1241.5 443.6,1243.5 357.5,1287.5 352.7,1287.5" fill="#000" stroke="none"/>
<circle cx="358.4" cy="1299.3" r="7" fill="none" stroke-width="4.7"/>
<circle cx="436.5" cy="1299.3" r="7" fill="none" stroke-width="4.7"/>
<rect x="948" y="1195" width="4.3" height="59.6" fill="#000" stroke="none"/>
<line x1="950.1" y1="1254.6" x2="950.1" y2="1254.7" stroke-width="4.3" stroke-linecap="round"/>
<rect x="943" y="1189.3" width="14.2" height="2" fill="#000" stroke="none"/>
<rect x="943" y="1194" width="14.2" height="2" fill="#000" stroke="none"/>
<polygon points="951,1203.3 973.1,1217.3 951,1230.5" fill="#000" stroke="none"/>
<rect x="814.75" y="1271.55" width="40.6" height="25.5" fill="none" stroke-width="2.9"/>
<rect x="810" y="1296" width="46.8" height="2.5" fill="#000" stroke="none"/>
<rect x="831.9" y="1271" width="2.6" height="26" fill="#000" stroke="none"/>
<circle cx="833.2" cy="1284.6" r="7.3" fill="#fff" stroke="none"/>
<circle cx="833.2" cy="1284.6" r="5.4" fill="none" stroke-width="3"/>
<line x1="839.7" y1="1284.6" x2="843.8" y2="1284.6" stroke-width="3" stroke-linecap="round"/>
<line x1="837.8" y1="1289.2" x2="840.7" y2="1292.1" stroke-width="3" stroke-linecap="round"/>
<line x1="833.2" y1="1291.1" x2="833.2" y2="1295.2" stroke-width="3" stroke-linecap="round"/>
<line x1="828.6" y1="1289.2" x2="825.7" y2="1292.1" stroke-width="3" stroke-linecap="round"/>
<line x1="826.7" y1="1284.6" x2="822.6" y2="1284.6" stroke-width="3" stroke-linecap="round"/>
<line x1="828.6" y1="1280" x2="825.7" y2="1277.1" stroke-width="3" stroke-linecap="round"/>
<line x1="833.2" y1="1278.1" x2="833.2" y2="1274" stroke-width="3" stroke-linecap="round"/>
<line x1="837.8" y1="1280" x2="840.7" y2="1277.1" stroke-width="3" stroke-linecap="round"/>
<circle cx="814.5" cy="1302" r="3.2" fill="none" stroke-width="2.3"/>
<circle cx="854.7" cy="1302" r="3.2" fill="none" stroke-width="2.3"/>
<path d="M914,1282.3 H1008.5 A6.3,6.3 0 0 1 1008.5,1294.9 H914 A6.3,6.3 0 0 1 914,1282.3 Z" fill="none" stroke-width="2.8" stroke-linecap="butt" stroke-linejoin="miter"/>
<circle cx="913.5" cy="1288.6" r="7.3" fill="#000" stroke="none"/>
<ellipse cx="912.8" cy="1288.8" rx="2.4" ry="3.6" transform="rotate(-35 912.8 1288.8)" fill="#fff" stroke="none"/>
<polyline points="928.5,1283 932.3,1288.6 928.5,1294.5" fill="none" stroke-width="3.5" stroke-linecap="butt" stroke-linejoin="miter"/>
<path d="M945.6,1283 Q951.6,1288.6 945.6,1294.5 L952,1294.5 L952,1283 Z" fill="#000" stroke="none"/>
<path d="M966.7,1283 Q971.8999999999999,1288.6 966.7,1294.5 L972.6,1294.5 L972.6,1283 Z" fill="#000" stroke="none"/>
<path d="M987,1283 Q993,1288.6 987,1294.5 L993,1294.5 L993,1283 Z" fill="#000" stroke="none"/>
<circle cx="918.6" cy="1301.5" r="4.2" fill="none" stroke-width="2.4"/>
<circle cx="1004.5" cy="1301.5" r="4.2" fill="none" stroke-width="2.4"/>
<rect x="1045.9" y="1289" width="48.8" height="2.4" fill="#000" stroke="none"/>
<rect x="1045.9" y="1294.2" width="48.8" height="2.4" fill="#000" stroke="none"/>
<circle cx="1051.4" cy="1299" r="3.2" fill="none" stroke-width="2.2"/>
<circle cx="1089.9" cy="1299" r="3.2" fill="none" stroke-width="2.2"/>
<rect x="1123.1" y="1289" width="48.8" height="2.4" fill="#000" stroke="none"/>
<rect x="1123.1" y="1294.2" width="48.8" height="2.4" fill="#000" stroke="none"/>
<circle cx="1128.6" cy="1299" r="3.2" fill="none" stroke-width="2.2"/>
<circle cx="1167.3" cy="1299" r="3.2" fill="none" stroke-width="2.2"/>
<text x="574.66" y="56.02" font-size="39.3" font-weight="normal" font-style="normal" text-anchor="start">Korpstruppen II.A.K.</text>
<text x="1299.13" y="47.47" font-size="23.38" font-weight="normal" font-style="normal" text-anchor="start">28.7.1939</text>
<text x="641.89" y="180.9" font-size="31.59" font-weight="normal" font-style="normal" text-anchor="start">II.</text>
<text x="697.99" y="168.4" font-size="19.5" font-weight="normal" font-style="normal" text-anchor="start">2</text>
<text x="748.14" y="192.75" font-size="15.5" font-weight="normal" font-style="normal" text-anchor="start">4</text>
<text x="0" y="0" font-size="16" font-weight="normal" font-style="normal" text-anchor="start" transform="translate(834.18,100.64) scale(1,1.0299)">402</text>
<text x="0" y="0" font-size="16.19" font-weight="normal" font-style="normal" text-anchor="start" transform="translate(928.98,99.73) scale(1,1.0354)">402</text>
<text x="319.52" y="317.47" font-size="22.96" font-weight="normal" font-style="normal" text-anchor="start">32.</text>
<text x="1058.3" y="324.47" font-size="22.82" font-weight="normal" font-style="normal" text-anchor="start">3.</text>
<text x="1308" y="389.98" font-size="27.23" font-weight="normal" font-style="normal" text-anchor="start">Artillerie</text>
<text x="462.12" y="423.45" font-size="22.53" font-weight="normal" font-style="normal" text-anchor="start">s.Art.Abt.604</text>
<text x="753.52" y="448" font-size="23.86" font-weight="normal" font-style="normal" text-anchor="start">2</text>
<text x="922.54" y="564.15" font-size="22.26" font-weight="normal" font-style="normal" text-anchor="start">bei II./38</text>
<text x="1135.25" y="458.63" font-size="22.78" font-weight="normal" font-style="normal" text-anchor="start">II./38</text>
<text x="266.95" y="643.8" font-size="18" font-weight="bold" font-style="normal" text-anchor="start">2</text>
<text x="302.33" y="655.6" font-size="17.8" font-weight="bold" font-style="normal" text-anchor="start">4</text>
<text x="409.25" y="643.8" font-size="18" font-weight="bold" font-style="normal" text-anchor="start">2</text>
<text x="444.63" y="655.6" font-size="17.8" font-weight="bold" font-style="normal" text-anchor="start">4</text>
<text x="556.95" y="643.8" font-size="18" font-weight="bold" font-style="normal" text-anchor="start">2</text>
<text x="592.33" y="655.6" font-size="17.8" font-weight="bold" font-style="normal" text-anchor="start">4</text>
<text x="1056.85" y="643.8" font-size="18" font-weight="bold" font-style="normal" text-anchor="start">2</text>
<text x="1092.23" y="655.6" font-size="17.8" font-weight="bold" font-style="normal" text-anchor="start">4</text>
<text x="1144.75" y="643.8" font-size="18" font-weight="bold" font-style="normal" text-anchor="start">2</text>
<text x="1180.13" y="655.6" font-size="17.8" font-weight="bold" font-style="normal" text-anchor="start">4</text>
<text x="1234.65" y="643.8" font-size="18" font-weight="bold" font-style="normal" text-anchor="start">2</text>
<text x="1270.03" y="655.6" font-size="17.8" font-weight="bold" font-style="normal" text-anchor="start">4</text>
<text x="461.69" y="694.11" font-size="22.62" font-weight="normal" font-style="normal" text-anchor="start">Baudienste</text>
<text x="312.88" y="750.21" font-size="19.46" font-weight="normal" font-style="normal" text-anchor="start">le.</text>
<text x="383.41" y="746.18" font-size="22.11" font-weight="normal" font-style="normal" text-anchor="start">604</text>
<text x="215.88" y="795.4" font-size="16.31" font-weight="normal" font-style="normal" text-anchor="start">Gerät Kol.</text>
<text x="325.78" y="785" font-size="16.8" font-weight="normal" font-style="normal" text-anchor="start">4</text>
<text x="354.98" y="785" font-size="16.8" font-weight="normal" font-style="normal" text-anchor="start">3</text>
<text x="383.5" y="785" font-size="16.8" font-weight="normal" font-style="normal" text-anchor="start">2</text>
<text x="412.04" y="785" font-size="16.8" font-weight="normal" font-style="normal" text-anchor="start">1</text>
<text x="645.2" y="714.76" font-size="19.94" font-weight="normal" font-style="normal" text-anchor="start">Pi.Regt.(mot)Stab 601</text>
<text x="671.36" y="814.01" font-size="16.87" font-weight="normal" font-style="normal" text-anchor="start">2./402</text>
<text x="807.47" y="813.88" font-size="16.68" font-weight="normal" font-style="normal" text-anchor="start">1./402</text>
<text x="695.33" y="887.5" font-size="20.5" font-weight="normal" font-style="normal" text-anchor="start">B</text>
<text x="814.83" y="887.5" font-size="20.5" font-weight="normal" font-style="normal" text-anchor="start">B</text>
<text x="1318.86" y="691.01" font-size="23.02" font-weight="normal" font-style="normal" text-anchor="start">Pioniere</text>
<text x="1187.11" y="787.79" font-size="20.7" font-weight="normal" font-style="normal" text-anchor="start">627</text>
<text x="1124.53" y="920.8" font-size="20.5" font-weight="normal" font-style="normal" text-anchor="start">B</text>
<text x="1240.94" y="886.7" font-size="19.5" font-weight="normal" font-style="normal" text-anchor="start">9</text>
<text x="1265.44" y="886.7" font-size="19.5" font-weight="normal" font-style="normal" text-anchor="start">9</text>
<text x="1288.94" y="886.7" font-size="19.5" font-weight="normal" font-style="normal" text-anchor="start">9</text>
<text x="316.75" y="987.92" font-size="19.34" font-weight="normal" font-style="normal" text-anchor="start">Flak</text>
<text x="398.42" y="988.25" font-size="19.8" font-weight="normal" font-style="normal" text-anchor="start">Flieger</text>
<text x="234.16" y="1038.33" font-size="20.45" font-weight="normal" font-style="normal" text-anchor="start">I./Fl.L.Rgt.</text>
<text x="0" y="0" font-size="15.51" font-weight="normal" font-style="normal" text-anchor="start" transform="translate(84.66,1156.85) scale(1,1.0914)">12</text>
<text x="0" y="0" font-size="15.51" font-weight="normal" font-style="normal" text-anchor="start" transform="translate(141.16,1156.85) scale(1,1.0914)">12</text>
<text x="206.17" y="1157.06" font-size="16.3" font-weight="normal" font-style="normal" text-anchor="start">4</text>
<text x="263.17" y="1157.06" font-size="16.3" font-weight="normal" font-style="normal" text-anchor="start">4</text>
<text x="320.17" y="1157.06" font-size="16.3" font-weight="normal" font-style="normal" text-anchor="start">4</text>
<text x="396.92" y="1061.79" font-size="19.43" font-weight="normal" font-style="normal" text-anchor="start">3.(H)/21</text>
<text x="424.77" y="1126.4" font-size="20.28" font-weight="normal" font-style="normal" text-anchor="start">9</text>
<text x="1309.68" y="985.52" font-size="24" font-weight="normal" font-style="normal" text-anchor="start">Nachr.Tr.</text>
<text x="1017.17" y="1038.9" font-size="23.86" font-weight="normal" font-style="normal" text-anchor="start">42</text>
<text x="949.9" y="1071.76" font-size="15.8" font-weight="normal" font-style="normal" text-anchor="start">4</text>
<text x="1008" y="1070.24" font-size="15.8" font-weight="normal" font-style="normal" text-anchor="start">3</text>
<text x="1067.83" y="1067.6" font-size="15.8" font-weight="normal" font-style="normal" text-anchor="start">2</text>
<text x="1122.39" y="1067.8" font-size="15.8" font-weight="normal" font-style="normal" text-anchor="start">1</text>
<text x="992" y="1156.6" font-size="15.7" font-weight="normal" font-style="normal" text-anchor="start">b</text>
<text x="1050.1" y="1155.8" font-size="15.7" font-weight="normal" font-style="normal" text-anchor="start">b</text>
<text x="1103.05" y="1154.5" font-size="15.7" font-weight="normal" font-style="normal" text-anchor="start">b</text>
<text x="121.62" y="1194.49" font-size="19.71" font-weight="normal" font-style="normal" text-anchor="start">Feldpostdienste</text>
<text x="327.93" y="1193.38" font-size="19.43" font-weight="normal" font-style="normal" text-anchor="start">Ordnungsdienste</text>
<text x="0" y="0" font-size="19.56" font-weight="normal" font-style="normal" text-anchor="start" transform="translate(202.21,1245.69) scale(1,1.0656)">402</text>
<text x="0" y="0" font-size="19.69" font-weight="normal" font-style="normal" text-anchor="start" transform="translate(429.01,1231.69) scale(1,1.0588)">402</text>
<text x="1270.6" y="1188.9" font-size="16.72" font-weight="normal" font-style="italic" text-anchor="start">Nachschubdienste</text>
<text x="0" y="0" font-size="19.69" font-weight="normal" font-style="normal" text-anchor="start" transform="translate(980.01,1220.69) scale(1,1.0588)">402</text>
<text x="957.61" y="1252.3" font-size="19.57" font-weight="normal" font-style="normal" text-anchor="start">K</text>
<text x="1010.67" y="1274.95" font-size="15" font-weight="normal" font-style="normal" text-anchor="start">3</text>
<text x="1082.4" y="1286.5" font-size="15" font-weight="normal" font-style="normal" text-anchor="start">2</text>
<text x="1161.03" y="1286.5" font-size="15" font-weight="normal" font-style="normal" text-anchor="start">1</text>
<rect x="1307" y="393" width="99" height="1.8" fill="#000" stroke="none"/>
<rect x="462.2" y="695.8" width="112.6" height="2.2" fill="#000" stroke="none"/>
<rect x="1319" y="693.2" width="83.9" height="1.7" fill="#000" stroke="none"/>
<rect x="317.2" y="989.9" width="36.8" height="1.5" fill="#000" stroke="none"/>
<rect x="399.3" y="989.9" width="59.7" height="1.5" fill="#000" stroke="none"/>
<rect x="1310" y="986.9" width="96" height="2" fill="#000" stroke="none"/>
<rect x="122" y="1196.6" width="138.8" height="1.4" fill="#000" stroke="none"/>
<rect x="328" y="1196" width="147.6" height="1.4" fill="#000" stroke="none"/>
<rect x="1270.3" y="1190.7" width="137.8" height="1.3" fill="#000" stroke="none"/>
</g>
</svg></body></html>
